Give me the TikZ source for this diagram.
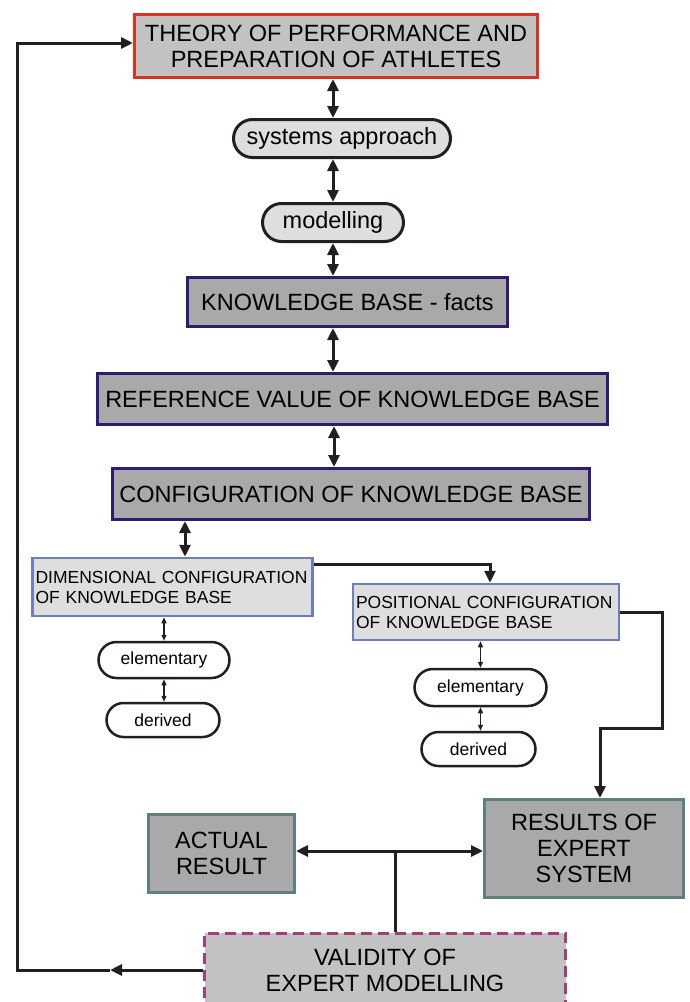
\documentclass[tikz,border=0pt]{standalone}
\usepackage{fontspec}
\setmainfont{Liberation Sans}
\usetikzlibrary{arrows.meta,shapes.misc}

\definecolor{theoryred}{HTML}{E0301E}
\definecolor{kbnavy}{HTML}{2E1A78}
\definecolor{confblue}{HTML}{6C7EC0}
\definecolor{restea}{HTML}{5E8080}
\definecolor{validmag}{HTML}{A0407A}
\definecolor{darkfill}{HTML}{A9A9A9}
\definecolor{midfill}{HTML}{C2C2C2}
\definecolor{lightfill}{HTML}{DEDEDE}
\definecolor{lineblk}{HTML}{231F20}

\tikzset{
  bigtxt/.style={font=\fontsize{23.5}{26}\selectfont},
  smalltxt/.style={font=\fontsize{17.5}{20}\selectfont},
  theorybox/.style={draw=theoryred, fill=midfill, line width=3pt, inner sep=0pt, align=center, bigtxt},
  kbbox/.style={draw=kbnavy, fill=darkfill, line width=3pt, inner sep=0pt, align=center, bigtxt},
  resbox/.style={draw=restea, fill=darkfill, line width=3pt, inner sep=0pt, align=center, bigtxt},
  confbox/.style={draw=confblue, fill=lightfill, line width=2.5pt, inner xsep=3pt, inner ysep=0pt, align=left, smalltxt},
  pill/.style={rounded rectangle, draw=lineblk, fill=lightfill, line width=3pt, inner sep=0pt, bigtxt},
  smallpill/.style={rounded rectangle, draw=lineblk, fill=white, line width=2.5pt, inner sep=0pt, smalltxt},
  validbox/.style={draw=validmag, fill=midfill, line width=3pt, dash pattern=on 11pt off 6pt, inner sep=0pt, align=center, bigtxt},
  dbl/.style={{Triangle[length=12pt,width=11pt]}-{Triangle[length=12pt,width=11pt]}, line width=3pt, draw=lineblk},
  sdbl/.style={{Triangle[length=6pt,width=5pt]}-{Triangle[length=6pt,width=5pt]}, line width=1.3pt, draw=lineblk},
  arr/.style={-{Triangle[length=12pt,width=11pt]}, line width=3pt, draw=lineblk},
  plain/.style={line width=3pt, draw=lineblk}
}

\begin{document}
\begin{tikzpicture}[x=1pt,y=-1pt]
  \useasboundingbox (0,0) rectangle (689,1002);

  % main column
  \node[theorybox, minimum width=403pt, minimum height=63pt] (theory) at (336,46)
    {THEORY OF PERFORMANCE AND\\PREPARATION OF ATHLETES};
  \node[pill, minimum width=217pt, minimum height=38pt] (sysapp) at (342,138.5) {systems approach};
  \node[pill, minimum width=141pt, minimum height=38pt] (modl) at (333,222.5) {modelling};
  \node[kbbox, minimum width=320pt, minimum height=49pt] (kbfacts) at (347.5,302) {KNOWLEDGE BASE - facts};
  \node[kbbox, minimum width=510pt, minimum height=51pt] (kbref) at (352.5,399) {REFERENCE VALUE OF KNOWLEDGE BASE};
  \node[kbbox, minimum width=477pt, minimum height=51pt] (kbconf) at (351,494) {CONFIGURATION OF KNOWLEDGE BASE};

  % configurations
  \node[confbox, minimum width=280pt, minimum height=58pt, text width=274pt] (dimconf) at (172.5,587)
    {DIMENSIONAL CONFIGURATION\\OF KNOWLEDGE BASE};
  \node[confbox, minimum width=266pt, minimum height=56pt, text width=260pt] (posconf) at (486,612)
    {POSITIONAL CONFIGURATION\\OF KNOWLEDGE BASE};
  \node[smallpill, minimum width=131pt, minimum height=36pt] (elemA) at (164,660) {elementary};
  \node[smallpill, minimum width=113pt, minimum height=34pt] (derA) at (163,720) {derived};
  \node[smallpill, minimum width=132pt, minimum height=37pt] (elemB) at (480.5,687.5) {elementary};
  \node[smallpill, minimum width=114pt, minimum height=34pt] (derB) at (478.5,749) {derived};

  % results
  \node[resbox, minimum width=199pt, minimum height=98pt] (expres) at (584,848.5) {RESULTS OF\\EXPERT\\SYSTEM};
  \node[resbox, minimum width=146pt, minimum height=78pt] (actres) at (221.5,853.5) {ACTUAL\\RESULT};
  \node[validbox, minimum width=361pt, minimum height=74pt] (valid) at (385,970) {VALIDITY OF\\EXPERT MODELLING};

  \coordinate (junc) at (395,851);
  \coordinate (bendA) at (662,728);
  \coordinate (bendB) at (600,728);
  \coordinate (tipL) at (110,970);
  \coordinate (corner) at (17,43);

  % connectors
  \draw[dbl] (theory.south -| modl) -- (sysapp.north -| modl);
  \draw[dbl] (sysapp.south -| modl) -- (modl.north);
  \draw[dbl] (modl.south) -- (kbfacts.north -| modl);
  \draw[dbl] (kbfacts.south -| modl) -- (kbref.north -| modl);
  \draw[dbl] ([xshift=1pt]kbref.south -| modl) -- ([xshift=1pt]kbconf.north -| modl);
  \draw[dbl] ([xshift=12.5pt]dimconf.north |- kbconf.south) -- ([xshift=12.5pt]dimconf.north);
  \draw[arr] ([yshift=23pt]dimconf.east) -| ([xshift=4pt]posconf.north);
  \draw[sdbl] (dimconf.south -| elemA) -- (elemA.north);
  \draw[sdbl] (elemA.south) -- (derA.north -| elemA);
  \draw[sdbl] (posconf.south -| elemB) -- (elemB.north);
  \draw[sdbl] (elemB.south) -- (derB.north -| elemB);
  \draw[arr] (posconf.east) -| (bendA) -- (bendB) -- (bendB |- expres.north);
  \draw[dbl] (actres.east |- junc) -- (expres.west |- junc);
  \draw[plain] (junc) -- (junc |- valid.north);
  \draw[arr] (valid.west) -- (tipL);
  \draw[arr] (tipL) -- (tipL -| corner) -- (corner) -- (theory.west |- corner);
\end{tikzpicture}
\end{document}
